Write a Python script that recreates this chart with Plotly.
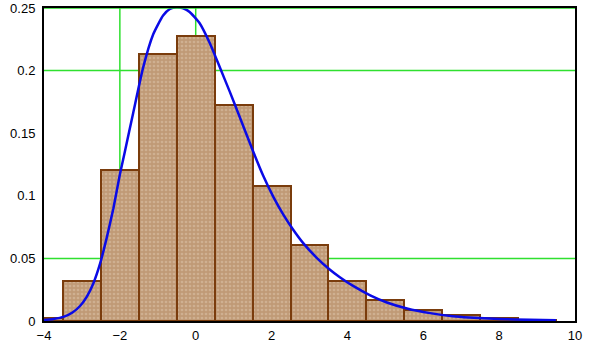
import plotly.graph_objects as go

# Histogram bins (centres, width 1) and heights
bin_centers = [-4, -3, -2, -1, 0, 1, 2, 3, 4, 5, 6, 7, 8, 9]
bin_heights = [0.0025, 0.032, 0.121, 0.213, 0.2275, 0.1725, 0.1076, 0.0604,
               0.0318, 0.0165, 0.0085, 0.0046, 0.0026, 0.0012]

# Density curve points
curve_x = [-4.0, -3.75, -3.47, -3.25, -3.05, -2.87, -2.70, -2.52, -2.35, -2.17, -2.0,
           -1.87, -1.65, -1.39, -1.12, -0.86, -0.68, -0.51, -0.33, -0.16, 0.10,
           0.37, 0.63, 0.90, 1.16, 1.52, 1.78, 2.05, 2.31, 2.58, 2.84, 3.19,
           3.54, 3.80, 4.15, 4.6, 5.04, 5.57, 6.18, 6.78, 7.2, 8.0, 8.8, 9.5]
curve_y = [0.0008, 0.0016, 0.0035, 0.0068, 0.0120, 0.0195, 0.030, 0.046, 0.066, 0.090,
           0.117, 0.135, 0.166, 0.202, 0.229, 0.244, 0.2492, 0.2505, 0.2497, 0.2468, 0.238,
           0.222, 0.203, 0.183, 0.163, 0.135, 0.116, 0.099, 0.085, 0.0725, 0.062, 0.0505,
           0.041, 0.035, 0.028, 0.0205, 0.0148, 0.0100, 0.0063, 0.0038, 0.0028, 0.0016,
           0.0009, 0.0005]

y_tickvals = [0, 0.05, 0.1, 0.15, 0.2, 0.25]
y_ticktext = ["0", "0.05", "0.1", "0.15", "0.2", "0.25"]
x_tickvals = [-4, -2, 0, 2, 4, 6, 8, 10]
x_ticktext = ["\u22124", "\u22122", "0", "2", "4", "6", "8", "10"]

grid_x = [-2, 0]
grid_y = [0.05, 0.2]

fig = go.Figure()
fig.add_trace(go.Bar(
    x=bin_centers, y=bin_heights, width=1,
    marker=dict(color="#c29d7b",
                line=dict(color="#7a3c0c", width=2),
                pattern=dict(shape=".", fgcolor="#ddc5ab", bgcolor="#c09a76",
                             size=4, solidity=0.35)),
    showlegend=False, hoverinfo="skip"))
fig.add_trace(go.Scatter(
    x=curve_x, y=curve_y, mode="lines", line_shape="spline",
    line=dict(color="#0a0ae6", width=2.5, smoothing=0.5), showlegend=False,
    hoverinfo="skip"))

shapes = []
for gx in grid_x:
    shapes.append(dict(type="line", xref="x", yref="y", x0=gx, x1=gx, y0=0, y1=0.25,
                       line=dict(color="#2fe02f", width=1.5), layer="below"))
for gy in grid_y:
    shapes.append(dict(type="line", xref="x", yref="y", x0=-4, x1=10, y0=gy, y1=gy,
                       line=dict(color="#2fe02f", width=1.5), layer="below"))
shapes.append(dict(type="line", xref="x", yref="y", x0=-4, x1=10, y0=0.25, y1=0.25,
                   line=dict(color="#22dd22", width=1.5), layer="above"))

fig.update_layout(
    width=597, height=350,
    margin=dict(l=44, r=22, t=8, b=29, autoexpand=False),
    paper_bgcolor="white", plot_bgcolor="white",
    bargap=0, shapes=shapes,
    font=dict(family="Liberation Sans, Arial", size=13, color="black"),
    xaxis=dict(range=[-4, 10], tickvals=x_tickvals, ticktext=x_ticktext,
               showgrid=False, zeroline=False, showline=True, linecolor="black",
               linewidth=2, mirror=True, ticks="outside", ticklen=1,
               tickcolor="rgba(0,0,0,0)", automargin=False),
    yaxis=dict(range=[0, 0.25], tickvals=y_tickvals, ticktext=y_ticktext,
               showgrid=False, zeroline=False, showline=True, linecolor="black",
               linewidth=2, mirror=True, ticks="outside", ticklen=4,
               tickcolor="rgba(0,0,0,0)", automargin=False),
)
fig.write_html("out.html", config={"displayModeBar": False},
               post_script="document.body.style.margin='0';document.body.style.overflow='hidden';")
